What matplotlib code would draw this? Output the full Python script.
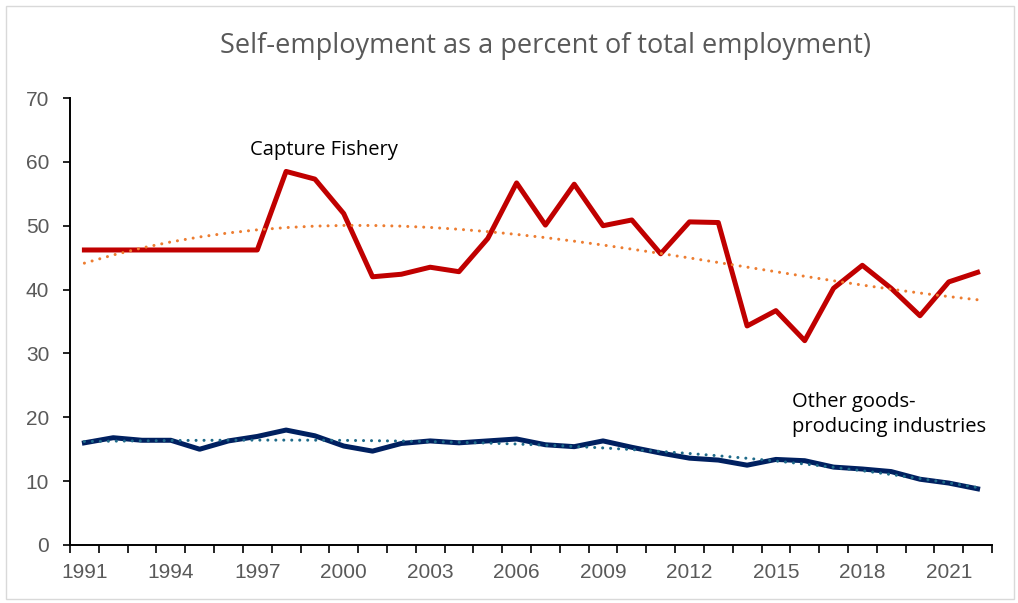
import numpy as np
import matplotlib.pyplot as plt
from matplotlib.patches import Rectangle

years = np.arange(1991, 2023)

capture_fishery = [46.2, 46.2, 46.2, 46.2, 46.2, 46.2, 46.2, 58.5, 57.3, 51.9,
                   42.0, 42.4, 43.5, 42.8, 48.0, 56.7, 50.1, 56.5, 50.0, 50.9,
                   45.6, 50.6, 50.5, 34.3, 36.7, 32.0, 40.2, 43.8, 40.2, 35.9,
                   41.2, 42.7]

other_goods = [16.0, 16.8, 16.4, 16.4, 15.0, 16.3, 17.0, 18.0, 17.1, 15.5,
               14.7, 15.9, 16.3, 16.0, 16.3, 16.6, 15.7, 15.4, 16.3, 15.3,
               14.4, 13.6, 13.3, 12.5, 13.4, 13.2, 12.2, 11.9, 11.5, 10.3,
               9.7, 8.8]

title = 'Self-employment as a percent of total employment)'
label_fish = 'Capture Fishery'
label_other = 'Other goods-\nproducing industries'

text_font = ['Open Sans', 'DejaVu Sans']
tick_font = ['Liberation Sans Narrow', 'Liberation Sans', 'DejaVu Sans']


def trend(y):
    # 3rd order polynomial trendline
    t = years - years[0]
    coef = np.polyfit(t, y, 3)
    return np.polyval(coef, t)


fig = plt.figure(figsize=(10.18, 6.03), dpi=100)
ax = fig.add_axes([70 / 1018, 58 / 603, 922 / 1018, 447 / 603])

dots = (0, (0.01, 2.6))
ax.plot(years, capture_fishery, color='#C00000', lw=3.6, zorder=3)
ax.plot(years, trend(capture_fishery), color='#ED7D31', lw=2.2, ls=dots,
        dash_capstyle='round', zorder=4)
ax.plot(years, other_goods, color='#002060', lw=3.6, zorder=3)
ax.plot(years, trend(other_goods), color='#1F6B8A', lw=2.2, ls=dots,
        dash_capstyle='round', zorder=4)

ax.set_xlim(1990.5, 2022.5)
ax.set_ylim(0, 70)

ax.set_xticks(years[::3])
ax.set_xticklabels([str(y) for y in years[::3]], family=tick_font, fontsize=15, color='#595959')
ax.set_xticks(np.arange(1990.5, 2023, 1), minor=True)
ax.tick_params(axis='x', which='major', length=0, pad=13)
ax.tick_params(axis='x', which='minor', length=6, width=1.2, direction='out', color='black')

ax.set_yticks(np.arange(0, 71, 10))
ax.set_yticklabels([str(v) for v in range(0, 71, 10)], family=tick_font, fontsize=15, color='#595959')
ax.tick_params(axis='y', length=5, width=1.2, direction='out', color='black', pad=10)

for side in ['top', 'right']:
    ax.spines[side].set_visible(False)
ax.spines['left'].set_linewidth(1.4)
ax.spines['bottom'].set_linewidth(1.4)

ax.text(1999.3, 61.8, label_fish, family=text_font, fontsize=14.5, color='black', ha='center', va='center')
ax.text(2015.55, 20.4, label_other, family=text_font, fontsize=14.5, color='black',
        ha='left', va='center', linespacing=1.3)

fig.text(546 / 1018, 1 - 46 / 603, title, family=text_font, fontsize=19.5, color='#595959',
         ha='center', va='center')

fig.patches.append(Rectangle((6 / 1018, 4 / 603), 1008 / 1018, 593 / 603, transform=fig.transFigure,
                             fill=False, edgecolor='#D9D9D9', lw=1.0))

fig.savefig('out.png', dpi=100)
